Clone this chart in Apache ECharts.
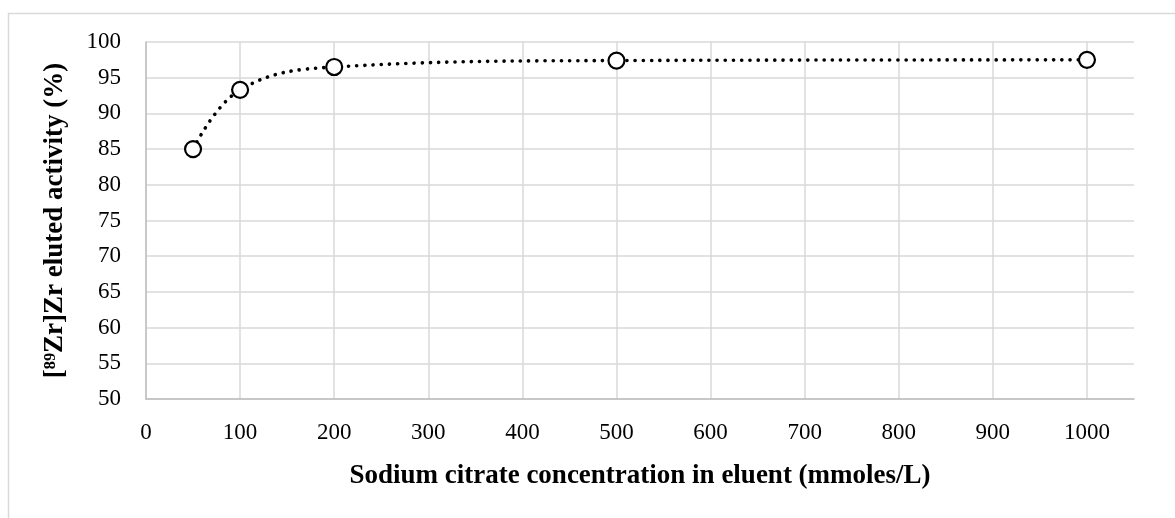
<!DOCTYPE html>
<html>
<head>
<meta charset="utf-8">
<script src="https://cdn.jsdelivr.net/npm/echarts@6/dist/echarts.min.js"></script>
<style>
  html, body { margin: 0; padding: 0; background: #fff; }
  #chart { width: 1175px; height: 518px; }
</style>
</head>
<body>
<div id="chart"></div>
<script>
// concentration (mmoles/L) and eluted activity (%)
var concentrations = [50, 100, 200, 500, 1000];
var elutedActivity = [85.0, 93.3, 96.5, 97.4, 97.5];

var points = concentrations.map(function (c, i) { return [c, elutedActivity[i]]; });

var font = '"Liberation Serif", "DejaVu Serif", serif';

var chart = echarts.init(document.getElementById('chart'));
chart.setOption({
  backgroundColor: '#fff',
  animation: false,
  graphic: [{
    type: 'rect',
    shape: { x: 8.5, y: 13.5, width: 1180, height: 520 },
    style: { fill: 'none', stroke: '#d9d9d9', lineWidth: 1.5 },
    silent: true
  }],
  grid: { left: 146, top: 42, right: 41, bottom: 119 },
  xAxis: {
    type: 'value',
    min: 0,
    max: 1050,
    interval: 100,
    name: 'Sodium citrate concentration in eluent (mmoles/L)',
    nameLocation: 'middle',
    nameGap: 64,
    nameTextStyle: { fontFamily: font, fontWeight: 'bold', fontSize: 27, color: '#000' },
    axisLine: { show: true, lineStyle: { color: '#bfbfbf', width: 1.5 } },
    axisTick: { show: false },
    axisLabel: {
      fontFamily: font, fontSize: 23, color: '#000', margin: 22,
      showMaxLabel: false,
      formatter: function (v) { return String(v); }
    },
    splitLine: { show: true, showMaxLine: false, lineStyle: { color: '#d9d9d9', width: 1.5 } }
  },
  yAxis: {
    type: 'value',
    min: 50,
    max: 100,
    interval: 5,
    name: '[\u2078\u2079Zr]Zr eluted activity (%)',
    nameLocation: 'middle',
    nameGap: 77,
    nameTextStyle: { fontFamily: font, fontWeight: 'bold', fontSize: 27, color: '#000' },
    axisLine: { show: true, lineStyle: { color: '#bfbfbf', width: 1.5 } },
    axisTick: { show: false },
    axisLabel: { fontFamily: font, fontSize: 23, color: '#000', margin: 25 },
    splitLine: { show: true, lineStyle: { color: '#d9d9d9', width: 1.5 } }
  },
  series: [{
    type: 'line',
    data: points,
    smooth: 0.4,
    symbol: 'circle',
    symbolSize: 16,
    itemStyle: { color: '#fff', borderColor: '#000', borderWidth: 2.2 },
    lineStyle: { color: '#000', width: 3.6, type: [0.1, 8.1], cap: 'round' }
  }]
});
</script>
</body>
</html>
